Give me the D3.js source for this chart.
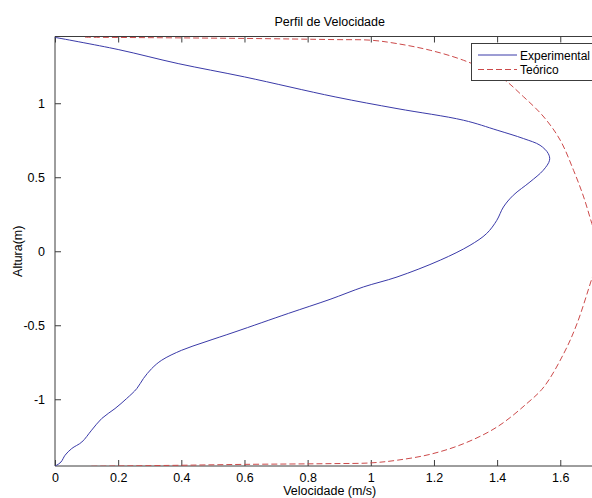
<!DOCTYPE html>
<html>
<head>
<meta charset="utf-8">
<script src="https://cdn.jsdelivr.net/npm/d3@7"></script>
<style>
  body { margin: 0; background: #fff; }
  svg { display: block; font-family: "Liberation Sans", Arial, sans-serif; }
</style>
</head>
<body>
<div id="chart"></div>
<script>
// experimental profile (velocity m/s, height m)
const expVel = [0, 0.2, 0.39, 0.6, 0.887, 1.083, 1.294, 1.40, 1.484, 1.536, 1.562, 1.566, 1.546, 1.504, 1.451, 1.42, 1.399, 1.367, 1.314, 1.22, 1.083, 0.977, 0.871, 0.739, 0.57, 0.475, 0.401, 0.338, 0.306, 0.28, 0.259, 0.227, 0.19, 0.148, 0.116, 0.085, 0.053, 0.032, 0.019, 0.005, 0];
const expHeight = [1.445, 1.363, 1.268, 1.178, 1.043, 0.964, 0.885, 0.818, 0.761, 0.716, 0.66, 0.615, 0.547, 0.468, 0.378, 0.299, 0.209, 0.12, 0.04, -0.06, -0.174, -0.241, -0.325, -0.42, -0.545, -0.613, -0.669, -0.736, -0.793, -0.86, -0.928, -0.995, -1.063, -1.13, -1.209, -1.289, -1.333, -1.378, -1.424, -1.446, -1.451];

// theoretical profile
const teoVel = [0.095, 0.6, 0.887, 1.0, 1.083, 1.188, 1.294, 1.41, 1.484, 1.548, 1.60, 1.642, 1.674, 1.70, 1.715, 1.72, 1.715, 1.70, 1.653, 1.611, 1.548, 1.494, 1.40, 1.294, 1.188, 1.083, 1.0, 0.871, 0.6, 0.4, 0.105];
const teoHeight = [1.446, 1.438, 1.43, 1.426, 1.403, 1.358, 1.29, 1.178, 1.043, 0.907, 0.75, 0.547, 0.367, 0.187, 0.09, 0, -0.09, -0.185, -0.489, -0.691, -0.917, -1.029, -1.187, -1.30, -1.372, -1.412, -1.43, -1.435, -1.44, -1.446, -1.453];

const xTicks = [0, 0.2, 0.4, 0.6, 0.8, 1, 1.2, 1.4, 1.6];
const yTicks = [-1, -0.5, 0, 0.5, 1];

const W = 592, H = 498;
const mLeft = 55, mTop = 36.5, mBottom = 466;
const mRight = 55 + 1.74 * 315.8;

const svg = d3.select('#chart').append('svg')
    .attr('width', W)
    .attr('height', H);

const x = d3.scaleLinear().domain([0, 1.74]).range([mLeft, mRight]);
const y = d3.scaleLinear().domain([-1.451, 1.451]).range([mBottom, mTop]);

const axisColor = '#3c3c3c';

svg.append('defs').append('clipPath').attr('id', 'clip')
    .append('rect')
    .attr('x', mLeft).attr('y', mTop)
    .attr('width', mRight - mLeft).attr('height', mBottom - mTop);

// axes box with inward ticks, plain hyphen for negatives like matlab
const fmt = d => String(d);
const xAxisB = d3.axisBottom(x).tickValues(xTicks).tickSize(-6).tickPadding(7).tickFormat(fmt);
const xAxisT = d3.axisTop(x).tickValues(xTicks).tickSize(-6).tickFormat('');
const yAxisL = d3.axisLeft(y).tickValues(yTicks).tickSize(-6).tickPadding(10).tickFormat(fmt);

function styleAxis(g) {
    g.select('.domain').attr('stroke', axisColor);
    g.selectAll('.tick line').attr('stroke', axisColor);
    g.selectAll('.tick text').attr('fill', '#000').style('font-size', '12.5px');
    g.attr('font-family', null);
}

svg.append('g').attr('transform', `translate(0,${mBottom})`).call(xAxisB).call(styleAxis)
    .select('.domain').attr('d', `M${mLeft},0H${mRight}`);
svg.append('g').attr('transform', `translate(0,${mTop})`).call(xAxisT).call(styleAxis)
    .select('.domain').attr('d', `M${mLeft},0H${mRight}`);
svg.append('g').attr('transform', `translate(${mLeft},0)`).call(yAxisL).call(styleAxis)
    .select('.domain').attr('d', `M0,${mTop}V${mBottom}`);
svg.append('line')
    .attr('x1', mRight).attr('x2', mRight).attr('y1', mTop).attr('y2', mBottom)
    .attr('stroke', axisColor);

const plot = svg.append('g').attr('clip-path', 'url(#clip)');

const line = d3.line()
    .x(d => x(d[0]))
    .y(d => y(d[1]))
    .curve(d3.curveCatmullRom.alpha(0.5));

plot.append('path')
    .datum(teoVel.map((v, i) => [v, teoHeight[i]]))
    .attr('d', line)
    .attr('fill', 'none')
    .attr('stroke', '#cc4a4a')
    .attr('stroke-width', 1)
    .attr('stroke-dasharray', '6,3');

plot.append('path')
    .datum(expVel.map((v, i) => [v, expHeight[i]]))
    .attr('d', line)
    .attr('fill', 'none')
    .attr('stroke', '#3a3aa8')
    .attr('stroke-width', 1);

// title and labels
svg.append('text')
    .attr('x', (mLeft + mRight) / 2).attr('y', 26)
    .attr('text-anchor', 'middle')
    .style('font-size', '12.5px')
    .text('Perfil de Velocidade');

svg.append('text')
    .attr('x', (mLeft + mRight) / 2).attr('y', 495)
    .attr('text-anchor', 'middle')
    .style('font-size', '12.5px')
    .text('Velocidade (m/s)');

svg.append('text')
    .attr('transform', `translate(22,${(mTop + mBottom) / 2}) rotate(-90)`)
    .attr('text-anchor', 'middle')
    .style('font-size', '12.5px')
    .text('Altura(m)');

// legend
const legend = svg.append('g');
legend.append('rect')
    .attr('x', 471.5).attr('y', 43.5)
    .attr('width', 128).attr('height', 37)
    .attr('fill', '#fff')
    .attr('stroke', axisColor);

const items = [
    { name: 'Experimental', color: '#3a3aa8', dash: null, y: 55 },
    { name: 'Teórico', color: '#cc4a4a', dash: '6,3', y: 69.5 }
];
items.forEach(it => {
    legend.append('line')
        .attr('x1', 478).attr('x2', 517)
        .attr('y1', it.y).attr('y2', it.y)
        .attr('stroke', it.color)
        .attr('stroke-dasharray', it.dash);
    legend.append('text')
        .attr('x', 520).attr('y', it.y + 4.5)
        .style('font-size', '12px')
        .text(it.name);
});
</script>
</body>
</html>
